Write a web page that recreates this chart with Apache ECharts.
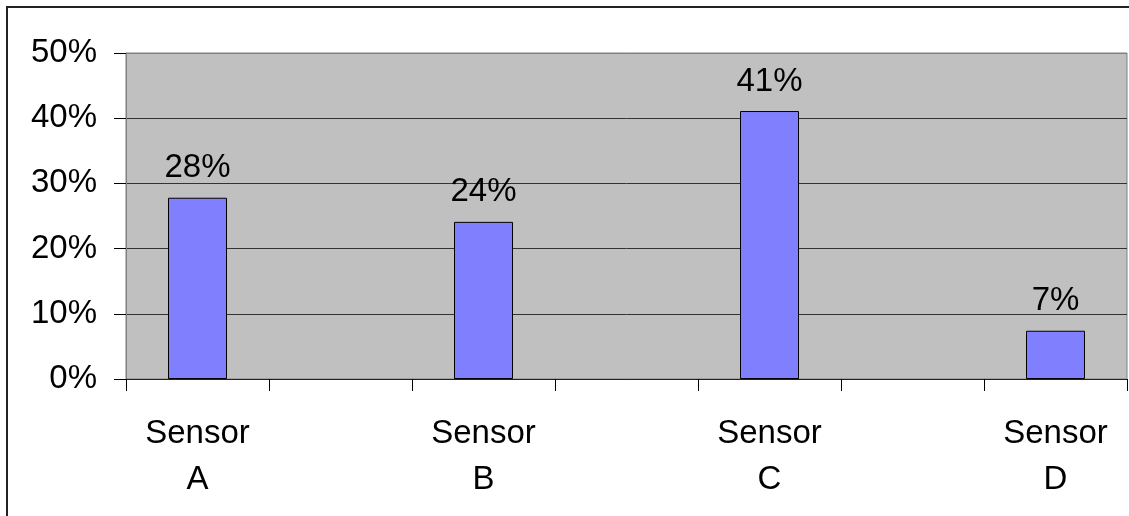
<!DOCTYPE html>
<html>
<head>
<meta charset="utf-8">
<script src="https://cdn.jsdelivr.net/npm/echarts@6/dist/echarts.min.js"></script>
<style>
  html, body { margin: 0; padding: 0; background: #fff; }
  #chart { width: 1129px; height: 516px; }
</style>
</head>
<body>
<div id="chart"></div>
<script>
// categories (blank slots sit between the sensors, as in the source chart)
var categories = ['Sensor\nA', '', 'Sensor\nB', '', 'Sensor\nC', '', 'Sensor\nD'];
var shares = [27.8, null, 24.1, null, 41.1, null, 7.4];
var yTicks = [0, 10, 20, 30, 40, 50];

var font = 'Arial, "Liberation Sans", sans-serif';

var myChart = echarts.init(document.getElementById('chart'));

var option = {
  animation: false,
  backgroundColor: '#fff',
  graphic: [{
    type: 'rect',
    shape: { x: 7, y: 7, width: 1300, height: 700 },
    style: { fill: 'none', stroke: '#222', lineWidth: 2 },
    silent: true
  }],
  grid: {
    left: 126,
    top: 53,
    right: 2,
    bottom: 137,
    show: true,
    backgroundColor: '#C0C0C0',
    borderColor: '#808080',
    borderWidth: 1
  },
  xAxis: {
    type: 'category',
    data: categories,
    boundaryGap: true,
    axisLine: { show: true, lineStyle: { color: '#222', width: 1 } },
    axisTick: {
      show: true,
      interval: 0,
      alignWithLabel: false,
      length: 12,
      lineStyle: { color: '#000' }
    },
    axisLabel: {
      interval: 0,
      margin: 32,
      color: '#000',
      fontFamily: font,
      fontSize: 33,
      lineHeight: 46
    },
    splitLine: { show: false }
  },
  yAxis: {
    type: 'value',
    min: yTicks[0],
    max: yTicks[yTicks.length - 1],
    interval: 10,
    axisLine: { show: true, lineStyle: { color: '#808080' } },
    axisTick: {
      show: true,
      inside: false,
      length: 12,
      lineStyle: { color: '#000' }
    },
    axisLabel: {
      margin: 29,
      color: '#000',
      fontFamily: font,
      fontSize: 33,
      padding: [4, 0, 0, 0],
      formatter: function (v) { return v + '%'; }
    },
    splitLine: {
      show: true,
      lineStyle: {
        color: ['#333', '#333', '#333', '#333', '#333', '#808080'],
        width: 1
      }
    }
  },
  series: [{
    type: 'bar',
    data: shares,
    barWidth: 59,
    itemStyle: {
      color: '#8080FF',
      borderColor: '#000',
      borderWidth: 1
    },
    label: {
      show: true,
      position: 'top',
      distance: 13,
      color: '#000',
      fontFamily: font,
      fontSize: 33,
      formatter: function (p) { return Math.round(p.value) + '%'; }
    }
  }]
};

myChart.setOption(option);
</script>
</body>
</html>
